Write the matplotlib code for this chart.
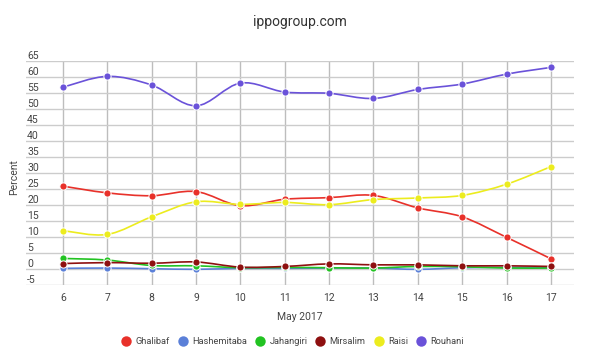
import numpy as np
import matplotlib.pyplot as plt
from matplotlib.path import Path
from matplotlib.patches import PathPatch
from matplotlib.lines import Line2D

plt.rcParams["font.family"] = ["Roboto", "DejaVu Sans"]

# Données
days = [6, 7, 8, 9, 10, 11, 12, 13, 14, 15, 16, 17]
ghalibaf = [25.9, 23.8, 22.9, 24.2, 19.8, 21.8, 22.3, 23.0, 19.1, 16.3, 9.9, 3.2]
hashemitaba = [0.2, 0.3, 0.1, -0.1, 0.2, 0.2, 0.3, 0.3, -0.1, 0.4, 0.5, 0.5]
jahangiri = [3.3, 2.8, 1.1, 1.0, 0.4, 0.5, 0.4, 0.3, 0.8, 0.7, 0.3, 0.3]
mirsalim = [1.7, 2.0, 1.8, 2.2, 0.6, 0.8, 1.6, 1.3, 1.3, 1.0, 1.0, 0.8]
raisi = [12.0, 10.8, 16.3, 21.0, 20.2, 20.8, 20.1, 21.7, 22.2, 23.0, 26.5, 32.0]
rouhani = [56.8, 60.2, 57.5, 51.0, 58.1, 55.3, 54.9, 53.3, 56.1, 57.8, 60.9, 63.0]

names = ["Ghalibaf", "Hashemitaba", "Jahangiri", "Mirsalim", "Raisi", "Rouhani"]
series = [ghalibaf, hashemitaba, jahangiri, mirsalim, raisi, rouhani]
colors = ["#e8312a", "#5b80d8", "#22c322", "#8e1010", "#ecec1e", "#6a52d9"]
yticks = list(range(-5, 70, 5))


def smooth_path(x, y, k=1 / 6):
    # courbe de Bézier passant par chaque point (lissage façon Google Charts)
    x = np.asarray(x, float)
    y = np.asarray(y, float)
    verts = [(x[0], y[0])]
    codes = [Path.MOVETO]
    n = len(x)
    for i in range(n - 1):
        x0, y0 = (x[i - 1], y[i - 1]) if i > 0 else (x[i], y[i])
        x3, y3 = (x[i + 2], y[i + 2]) if i + 2 < n else (x[i + 1], y[i + 1])
        c1 = (x[i] + (x[i + 1] - x0) * k, y[i] + (y[i + 1] - y0) * k)
        c2 = (x[i + 1] - (x3 - x[i]) * k, y[i + 1] - (y3 - y[i]) * k)
        verts += [c1, c2, (x[i + 1], y[i + 1])]
        codes += [Path.CURVE4] * 3
    return Path(verts, codes)


fig = plt.figure(figsize=(6, 3.61), dpi=100)
ax = fig.add_axes([0.0433, 0.2105, 0.9134, 0.6205])

for vals, col, name in zip(series, colors, names):
    ax.add_patch(
        PathPatch(smooth_path(days, vals), facecolor="none", edgecolor=col, lw=1.2, zorder=3)
    )
    ax.plot(
        days, vals, ls="none", marker="o", ms=5.2, color=col,
        markeredgecolor="white", markeredgewidth=0.7, zorder=4, label=name,
    )

ax.set_xlim(days[0] - 0.83, days[-1] + 0.52)
ax.set_ylim(-5, 65)
ax.set_xticks(days)
ax.set_yticks(yticks)
ax.set_yticklabels([])
ax.tick_params(length=0)
ax.tick_params(axis="x", labelsize=7.5, labelcolor="#444444", pad=6)
ax.grid(True, axis="y", color="#cccccc", lw=1)
ax.grid(True, axis="x", color="#bdbdbd", lw=1)
for s in ax.spines.values():
    s.set_visible(False)

# étiquettes de l'axe y posées au-dessus des lignes de grille
for v in yticks:
    ax.text(0.002, v, str(v), transform=ax.get_yaxis_transform(),
            ha="left", va="bottom", fontsize=7.5, color="#444444")

fig.text(14 / 600, 1 - 177 / 361, "Percent", rotation=90, ha="center", va="center",
         fontsize=7.5, color="#444444")
ax.set_xlabel("May 2017", fontsize=7.5, color="#444444", labelpad=6)
fig.text(0.5, 0.94, "ippogroup.com", ha="center", va="center", fontsize=10, color="#333333")

handles = [
    Line2D([], [], ls="none", marker="o", ms=7.5, color=c, markeredgewidth=0)
    for c in colors
]
fig.legend(handles, names, loc="center", bbox_to_anchor=(0.488, 0.053), ncol=6,
           frameon=False, fontsize=6.7, labelcolor="#444444", handletextpad=0.5,
           columnspacing=0.9, handlelength=1.0)

fig.savefig("out.png", dpi=100)
